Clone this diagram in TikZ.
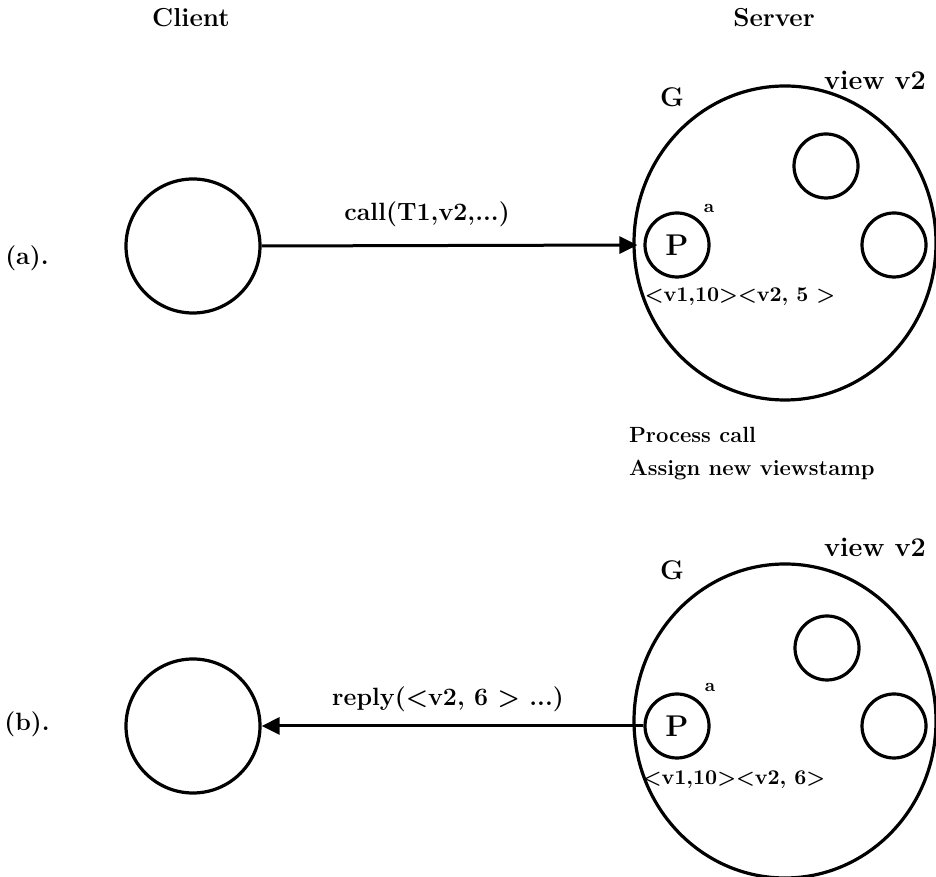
\documentclass[tikz,border=0pt]{standalone}
\usepackage{fontspec}
\usepackage{tikz}
\usetikzlibrary{arrows.meta}
\usetikzlibrary{shapes.geometric}

\begin{document}
\begin{tikzpicture}[x=50pt,y=50pt,
    font=\fontsize{12.5}{14}\selectfont\bfseries,
    site/.style={circle,draw,line width=1.6pt,minimum size=67pt,inner sep=0pt},
    group/.style={ellipse,draw,line width=1.6pt,minimum width=151pt,minimum height=157pt,inner sep=0pt},
    member/.style={circle,draw,line width=1.6pt,minimum size=32pt,inner sep=0pt},
    tag/.style={font=\fontsize{9}{9}\selectfont\bfseries},
    stamp/.style={font=\fontsize{10.5}{12}\selectfont\bfseries},
    msg/.style={line width=1.5pt,-{Triangle[length=9pt,width=8.5pt]}}]

\useasboundingbox (0,0) rectangle (9.36,8.77);

\node[font=\fontsize{13}{14}\selectfont\bfseries] (client) at (1.91,8.59) {Client};
\node[font=\fontsize{13}{14}\selectfont\bfseries] (server) at (7.74,8.59) {Server};

% (a). client sends the call to the primary
\node (la) at (0.27,6.19) {(a).};
\node[site] (ca) at (1.93,6.31) {};

\node[group] (ga) at (7.85,6.34) {};
\node[font=\fontsize{13.5}{14}\selectfont\bfseries] (ga-name) at (6.72,7.80) {G};
\node[font=\fontsize{13.5}{14}\selectfont\bfseries] (ga-view) at (8.75,7.97) {view v2};
\node[member] (pa) at (6.77,6.32) {\fontsize{15}{15}\selectfont P};
\node[tag] (pa-tag) at (7.09,6.69) {a};
\node[member] (qa) at (8.26,7.11) {};
\node[member] (ra) at (8.94,6.32) {};
\node[stamp] (vsa) at (7.40,5.80) {<v1,10><v2, 5 >};

\draw[msg,shorten >=3pt] (ca.east) -- (pa.west);
\node (calla) at (4.27,6.63) {call(T1,v2,...)};

\node[align=left,anchor=west,font=\fontsize{11}{16.5}\selectfont\bfseries] (work)
    at (6.22,4.235) {Process call\\Assign new viewstamp};

% (b). primary replies with the new viewstamp
\node (lb) at (0.27,1.53) {(b).};
\node[site] (cb) at (1.93,1.51) {};

\node[group] (gb) at (7.85,1.56) {};
\node[font=\fontsize{13.5}{14}\selectfont\bfseries] (gb-name) at (6.72,3.07) {G};
\node[font=\fontsize{13.5}{14}\selectfont\bfseries] (gb-view) at (8.75,3.30) {view v2};
\node[member] (pb) at (6.77,1.51) {\fontsize{15}{15}\selectfont P};
\node[tag] (pb-tag) at (7.10,1.90) {a};
\node[member] (qb) at (8.27,2.29) {};
\node[member] (rb) at (8.94,1.51) {};
\node[stamp] (vsb) at (7.34,0.97) {<v1,10><v2, 6>};

\draw[msg] (pb.west) -- (cb.east);
\node (replyb) at (4.48,1.78) {reply(<v2, 6 > ...)};
\end{tikzpicture}
\end{document}
